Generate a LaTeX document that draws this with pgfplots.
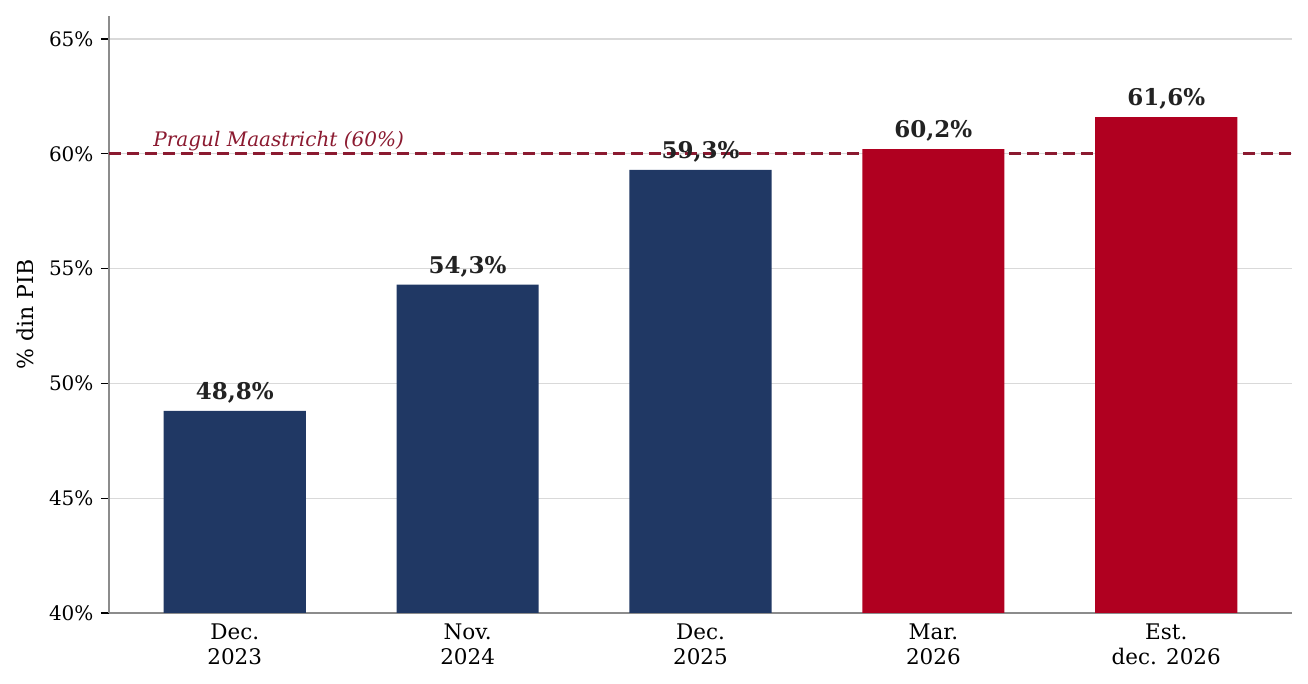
\documentclass[border=0pt]{standalone}
\usepackage{pgfplots}
\pgfplotsset{compat=1.18}
\usepackage{fontspec}
\setmainfont{DejaVu Serif}
\definecolor{navy}{HTML}{203864}
\definecolor{rosu}{HTML}{B00020}
\definecolor{linie}{HTML}{8B1A30}
\definecolor{txt}{HTML}{222222}
\begin{document}
\begin{tikzpicture}
\begin{axis}[
  name=ax,
  scale only axis,
  width=1183pt, height=597pt,
  xmin=-0.54, xmax=4.54,
  ymin=40, ymax=66,
  ytick={40,45,50,55,60,65},
  yticklabel={\pgfmathprintnumber{\tick}\%},
  /pgf/number format/assume math mode=true,
  xtick={0,1,2,3,4},
  xticklabels={{Dec.\\2023},{Nov.\\2024},{Dec.\\2025},{Mar.\\2026},{Est.\\dec. 2026}},
  xticklabel style={align=center, font=\fontsize{21.5}{25}\selectfont, text=black, yshift=1pt},
  yticklabel style={font=\fontsize{20}{24}\selectfont, text=black, xshift=-4pt},
  major x tick style={draw=none},
  major y tick style={black, line width=1.2pt},
  tick align=outside,
  major tick length=8pt,
  axis x line*=bottom, axis y line*=left,
  axis line style={draw=gray!90, line width=1.3pt},
  ymajorgrids,
  grid style={draw=gray!30, line width=1.3pt},
  ylabel={\% din PIB},
  ylabel style={font=\fontsize{22}{26}\selectfont},
  every axis y label/.append style={at={(rel axis cs:0,0.5)}, anchor=center, yshift=84pt},
  ybar, bar width=0.61,
  clip=false,
]
\addplot[sharp plot, forget plot, draw=linie, fill=none, line width=3pt, dash pattern=on 12pt off 6pt, mark=none] coordinates {(-0.54,60) (4.54,60)};
\node[anchor=base west, text=linie, font=\fontsize{20}{24}\selectfont\itshape, inner sep=0pt] at (axis cs:-0.35,60.3) {Pragul Maastricht (60\%)};
\addplot[fill=navy, draw=none, bar shift=0pt,
  nodes near coords={\pgfmathprintnumber[fixed,precision=1,use comma,fixed zerofill]{\pgfplotspointmeta}\%},
  every node near coord/.append style={font=\fontsize{23}{27}\selectfont\bfseries, text=txt, anchor=south, yshift=4pt}]
  coordinates {(0,48.8) (1,54.3) (2,59.3)};
\addplot[fill=rosu, draw=none, bar shift=0pt,
  nodes near coords={\pgfmathprintnumber[fixed,precision=1,use comma,fixed zerofill]{\pgfplotspointmeta}\%},
  every node near coord/.append style={font=\fontsize{23}{27}\selectfont\bfseries, text=txt, anchor=south, yshift=4pt}]
  coordinates {(3,60.2) (4,61.6)};
\end{axis}
\pgfresetboundingbox
\path ([shift={(-109pt,-71pt)}]ax.south west) rectangle ([shift={(16pt,16pt)}]ax.north east);
\end{tikzpicture}
\end{document}
